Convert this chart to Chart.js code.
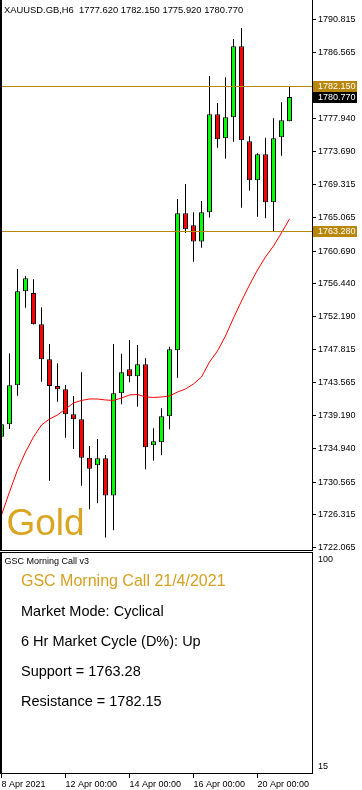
<!DOCTYPE html>
<html>
<head>
<meta charset="utf-8">
<script src="https://cdn.jsdelivr.net/npm/chart.js@4.4.1/dist/chart.umd.min.js"></script>
<style>
  html, body { margin: 0; padding: 0; background: #fff; }
  #wrap { position: relative; width: 362px; height: 790px; overflow: hidden; font-family: "Liberation Sans", Arial, sans-serif; }
  #priceChart { position: absolute; left: 0; top: 0; }
  #indChart { position: absolute; left: 0; top: 551px; }
  .txt { position: absolute; white-space: pre; line-height: 1; color: #000; }
</style>
</head>
<body>
<div id="wrap">
  <canvas id="priceChart" width="362" height="551"></canvas>
  <canvas id="indChart" width="362" height="239"></canvas>
  <div class="txt" style="left:4px;top:5.2px;font-size:9.4px">XAUUSD.GB,H6  1777.620 1782.150 1775.920 1780.770</div>
  <div class="txt" style="left:6.5px;top:504px;font-size:37px;color:#daa520">Gold</div>
  <div class="txt" style="left:4.5px;top:557px;font-size:9px">GSC Morning Call v3</div>
  <div class="txt" style="left:21px;top:573px;font-size:16px;color:#d4a020">GSC Morning Call 21/4/2021</div>
  <div class="txt" style="left:21px;top:603.6px;font-size:14.5px">Market Mode: Cyclical</div>
  <div class="txt" style="left:21px;top:634px;font-size:14.5px">6 Hr Market Cycle (D%): Up</div>
  <div class="txt" style="left:21px;top:664px;font-size:14.5px">Support = 1763.28</div>
  <div class="txt" style="left:21px;top:694px;font-size:14.5px">Resistance = 1782.15</div>
</div>
<script>
// XAUUSD H6 candles, 8 Apr 2021 -> 21 Apr 2021
const opens  = [1736.49, 1738.10, 1743.19, 1755.44, 1755.22, 1751.14, 1746.58, 1743.10, 1742.67, 1739.41, 1738.76, 1733.75, 1732.76, 1733.67, 1728.80, 1742.15, 1745.27, 1744.36, 1745.93, 1735.37, 1735.76, 1739.15, 1747.75, 1765.61, 1764.05, 1761.94, 1765.74, 1778.52, 1775.39, 1778.13, 1787.39, 1775.00, 1769.92, 1773.31, 1767.05, 1775.52, 1777.62];
const highs  = [1738.20, 1747.36, 1758.35, 1757.44, 1757.01, 1753.36, 1748.57, 1746.06, 1743.23, 1741.79, 1744.88, 1735.27, 1736.19, 1734.10, 1748.57, 1747.31, 1749.09, 1748.44, 1746.71, 1737.58, 1740.19, 1748.22, 1767.48, 1769.43, 1765.74, 1767.22, 1783.51, 1779.99, 1783.35, 1788.34, 1789.77, 1775.65, 1773.44, 1775.47, 1778.00, 1780.09, 1782.15];
const lows   = [1732.80, 1737.49, 1741.83, 1753.31, 1751.10, 1743.66, 1730.75, 1741.05, 1736.36, 1734.88, 1730.10, 1727.02, 1727.80, 1723.35, 1724.28, 1740.71, 1743.58, 1740.40, 1732.24, 1733.36, 1734.06, 1737.45, 1744.18, 1763.05, 1759.30, 1761.13, 1765.07, 1774.17, 1772.73, 1774.95, 1766.34, 1768.56, 1765.17, 1764.96, 1763.31, 1773.12, 1777.62];
const closes = [1738.10, 1743.19, 1755.44, 1757.14, 1751.14, 1746.58, 1743.10, 1742.67, 1739.41, 1738.76, 1733.75, 1732.32, 1733.67, 1728.80, 1742.15, 1744.88, 1744.36, 1745.93, 1735.10, 1735.89, 1739.15, 1747.88, 1765.61, 1763.53, 1761.94, 1765.74, 1778.52, 1775.26, 1778.13, 1787.39, 1775.13, 1769.92, 1773.31, 1767.05, 1775.39, 1777.74, 1780.77];
// red moving average
const ma = [1726.28, 1729.28, 1732.15, 1734.49, 1736.45, 1738.01, 1738.79, 1739.32, 1740.10, 1740.88, 1741.21, 1741.40, 1741.40, 1741.27, 1741.21, 1741.53, 1741.92, 1741.99, 1741.66, 1741.60, 1741.66, 1741.79, 1742.31, 1742.70, 1743.36, 1744.27, 1746.23, 1747.66, 1749.62, 1751.96, 1754.18, 1756.27, 1758.22, 1759.92, 1761.35, 1763.05, 1764.87];

const priceTicks = [1790.815, 1786.565, 1777.940, 1773.690, 1769.315, 1765.065, 1760.690, 1756.440, 1752.190, 1747.815, 1743.565, 1739.190, 1734.940, 1730.565, 1726.315, 1722.065];
const resistance = 1782.15;
const support = 1763.28;
const lastPrice = 1780.77;

const dateIdx = [0, 8, 16, 24, 32];
const dateLabels = ['8 Apr 2021', '12 Apr 00:00', '14 Apr 00:00', '16 Apr 00:00', '20 Apr 00:00'];
const indTicks = [100, 15];

// axis ranges
const xMin = -0.1875, xMax = 38.8125;
const yMin = 1721.58, yMax = 1793.42;
const indMin = 12.54, indMax = 103.29;

const FONT = '"Liberation Sans", Arial, sans-serif';
const GOLD = '#b8860b';

const idx = opens.map((_, i) => i);
const bodyColors = idx.map(i => closes[i] >= opens[i] ? '#00ff00' : '#ff0000');

const fixRightAxis = s => { s.width = 50; s.paddingTop = 0; s.paddingBottom = 0; };

const priceDecor = {
  id: 'priceDecor',
  afterDatasetsDraw(chart) {
    const { ctx, chartArea: a, scales: { y } } = chart;
    ctx.save();
    ctx.fillStyle = GOLD;
    [resistance, support].forEach(v => {
      ctx.fillRect(a.left, Math.floor(y.getPixelForValue(v)), a.right - a.left, 1);
    });
    ctx.fillStyle = '#000';
    ctx.fillRect(0, 0, 2, a.bottom);
    ctx.fillRect(0, a.bottom - 1, a.right, 1);
    ctx.restore();
  },
  afterDraw(chart) {
    const { ctx, chartArea: a, scales: { y } } = chart;
    ctx.save();
    ctx.font = '9px ' + FONT;
    ctx.textBaseline = 'middle';
    ctx.textAlign = 'left';
    [[resistance, GOLD], [support, GOLD], [lastPrice, '#000']].forEach(([v, bg]) => {
      const py = y.getPixelForValue(v);
      ctx.fillStyle = bg;
      ctx.fillRect(a.right + 1, Math.round(py - 5.5), 44, 11);
      ctx.fillStyle = '#fff';
      ctx.fillText(v.toFixed(3), a.right + 6, py + 0.5);
    });
    ctx.restore();
  }
};

new Chart(document.getElementById('priceChart'), {
  type: 'bar',
  data: {
    datasets: [
      {
        type: 'line',
        data: idx.map(i => ({ x: i, y: ma[i] })),
        borderColor: '#ff0000',
        borderWidth: 1,
        pointRadius: 0,
        tension: 0,
        order: 0
      },
      {
        data: idx.map(i => ({ x: i, y: [opens[i], closes[i]] })),
        backgroundColor: bodyColors,
        borderColor: '#000',
        borderWidth: 1,
        borderSkipped: false,
        barThickness: 5,
        inflateAmount: 0,
        grouped: false,
        order: 1
      },
      {
        data: idx.map(i => ({ x: i, y: [lows[i], highs[i]] })),
        backgroundColor: '#000',
        borderWidth: 0,
        barThickness: 1,
        inflateAmount: 0,
        grouped: false,
        order: 2
      }
    ]
  },
  options: {
    responsive: false,
    animation: false,
    events: [],
    layout: { padding: 0, autoPadding: false },
    plugins: { legend: { display: false }, tooltip: { enabled: false } },
    scales: {
      x: { type: 'linear', min: xMin, max: xMax, offset: false, display: false },
      y: {
        position: 'right',
        min: yMin,
        max: yMax,
        afterFit: fixRightAxis,
        afterBuildTicks: s => { s.ticks = priceTicks.map(v => ({ value: v })); },
        grid: { drawOnChartArea: false, tickLength: 4, color: '#000', tickColor: '#000' },
        border: { display: true, color: '#000', width: 1 },
        ticks: {
          autoSkip: false,
          padding: 2,
          color: '#000',
          font: { family: FONT, size: 9 },
          callback: v => v.toFixed(3)
        }
      }
    }
  },
  plugins: [priceDecor]
});

const indFrame = {
  id: 'indFrame',
  afterDraw(chart) {
    const { ctx, chartArea: a } = chart;
    ctx.save();
    ctx.fillStyle = '#000';
    ctx.fillRect(0, a.top, 2, a.bottom - a.top);
    ctx.fillRect(0, a.top, a.right, 1);
    ctx.restore();
  }
};

new Chart(document.getElementById('indChart'), {
  type: 'line',
  data: { datasets: [] },
  options: {
    responsive: false,
    animation: false,
    events: [],
    layout: { padding: { top: 1, left: 0, right: 0, bottom: 0 }, autoPadding: false },
    plugins: { legend: { display: false }, tooltip: { enabled: false } },
    scales: {
      x: {
        type: 'linear',
        min: xMin,
        max: xMax,
        offset: false,
        afterFit: s => { s.height = 17; s.paddingLeft = 0; s.paddingRight = 0; },
        afterBuildTicks: s => { s.ticks = dateIdx.map(v => ({ value: v })); },
        grid: { drawOnChartArea: false, tickLength: 5, color: '#000', tickColor: '#000' },
        border: { display: true, color: '#000', width: 1 },
        ticks: {
          autoSkip: false,
          maxRotation: 0,
          align: 'start',
          padding: 1,
          color: '#000',
          font: { family: FONT, size: 9 },
          callback: (v, i) => dateLabels[i]
        }
      },
      y: {
        position: 'right',
        min: indMin,
        max: indMax,
        afterFit: fixRightAxis,
        afterBuildTicks: s => { s.ticks = indTicks.map(v => ({ value: v })); },
        grid: { drawOnChartArea: false, tickLength: 4, color: 'rgba(0,0,0,0)', tickColor: 'rgba(0,0,0,0)' },
        border: { display: true, color: '#000', width: 1 },
        ticks: {
          autoSkip: false,
          padding: 2,
          color: '#000',
          font: { family: FONT, size: 9 },
          callback: v => String(v)
        }
      }
    }
  },
  plugins: [indFrame]
});
</script>
</body>
</html>
